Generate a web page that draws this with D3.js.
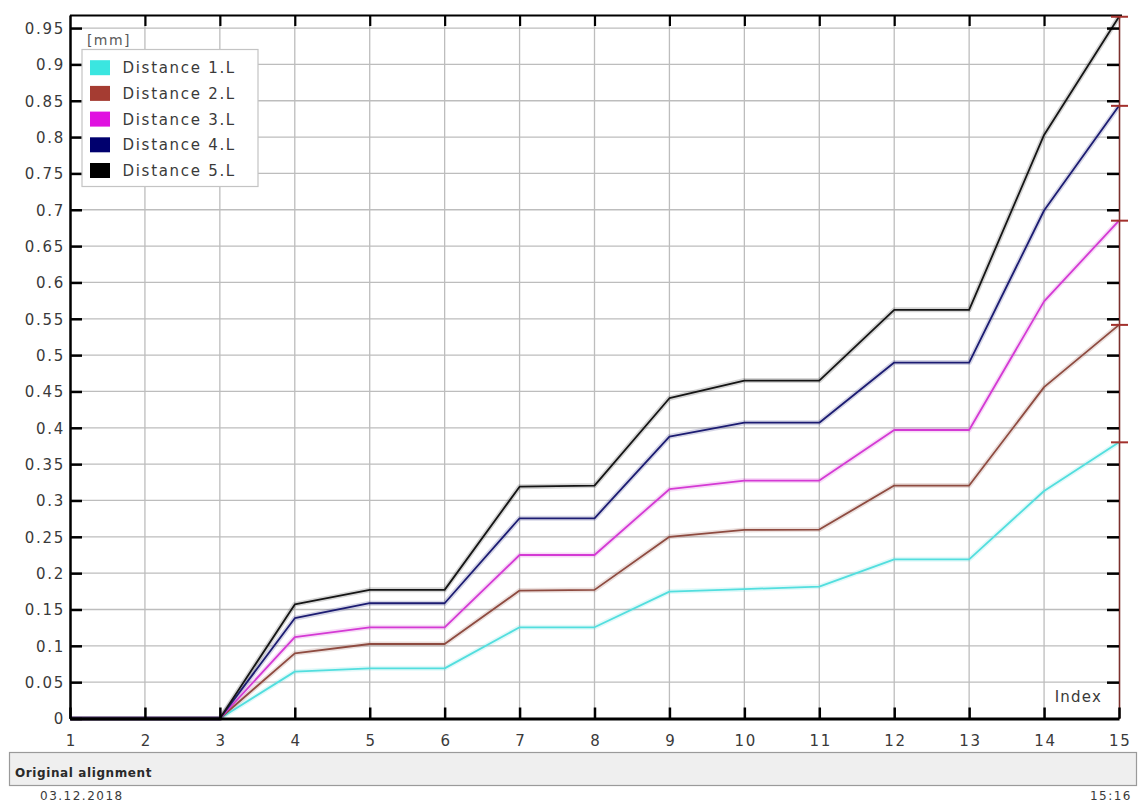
<!DOCTYPE html>
<html>
<head>
<meta charset="utf-8">
<script src="https://cdn.jsdelivr.net/npm/d3@7"></script>
<style>
  html, body { margin: 0; padding: 0; background: #ffffff; }
  svg { display: block; }
  text { font-family: "DejaVu Sans", Verdana, sans-serif; }
</style>
</head>
<body>
<svg id="chart" width="1138" height="802"></svg>
<script>
// Measurement index along the x axis
const indices = [1, 2, 3, 4, 5, 6, 7, 8, 9, 10, 11, 12, 13, 14, 15];

// Distances per index [mm]
const distance1 = [0, 0, 0, 0.0645, 0.069, 0.069, 0.1255, 0.1255, 0.1746, 0.178, 0.1815, 0.219, 0.219, 0.313, 0.380];
const distance2 = [0, 0, 0, 0.0897, 0.1025, 0.1025, 0.176, 0.177, 0.250, 0.2595, 0.260, 0.3205, 0.3205, 0.456, 0.5416];
const distance3 = [0, 0, 0, 0.112, 0.1255, 0.1255, 0.225, 0.225, 0.3155, 0.3274, 0.3274, 0.397, 0.397, 0.574, 0.685];
const distance4 = [0, 0, 0, 0.138, 0.1586, 0.1586, 0.2755, 0.2755, 0.388, 0.407, 0.407, 0.4898, 0.4898, 0.699, 0.843];
const distance5 = [0, 0, 0, 0.157, 0.177, 0.177, 0.319, 0.3205, 0.4407, 0.465, 0.465, 0.5623, 0.5623, 0.803, 0.9656];

const seriesNames = ["Distance 1.L", "Distance 2.L", "Distance 3.L", "Distance 4.L", "Distance 5.L"];
const seriesValues = [distance1, distance2, distance3, distance4, distance5];
const lineColors = ["#52dede", "#8e4b40", "#d43ad4", "#1c1c72", "#151515"];
const swatchColors = ["#3ae6e0", "#a53c32", "#e010e0", "#00006e", "#000000"];

// Axis ticks
const xTicks = [1, 2, 3, 4, 5, 6, 7, 8, 9, 10, 11, 12, 13, 14, 15];
const yTicks = [0, 0.05, 0.1, 0.15, 0.2, 0.25, 0.3, 0.35, 0.4, 0.45, 0.5, 0.55, 0.6, 0.65, 0.7, 0.75, 0.8, 0.85, 0.9, 0.95];
const yTickLabels = ["0", "0.05", "0.1", "0.15", "0.2", "0.25", "0.3", "0.35", "0.4", "0.45", "0.5", "0.55", "0.6", "0.65", "0.7", "0.75", "0.8", "0.85", "0.9", "0.95"];
const yMax = 0.968;

const svg = d3.select("#chart");

const plot = { left: 70, right: 1119, top: 15, bottom: 718.5 };

const x = d3.scaleLinear().domain([1, 15]).range([plot.left, plot.right]);
const y = d3.scaleLinear().domain([0, yMax]).range([plot.bottom, plot.top]);

const labelFont = 15;
const labelSpacing = 1.7;

// Grid
const grid = svg.append("g").attr("class", "grid");
grid.selectAll("line.v")
  .data(xTicks.slice(1, -1))
  .join("line")
  .attr("x1", d => x(d)).attr("x2", d => x(d))
  .attr("y1", plot.top).attr("y2", plot.bottom)
  .attr("stroke", "#bdbdbd").attr("stroke-width", 1.3);
grid.selectAll("line.h")
  .data(yTicks.slice(1))
  .join("line")
  .attr("x1", plot.left).attr("x2", plot.right)
  .attr("y1", d => y(d)).attr("y2", d => y(d))
  .attr("stroke", "#bdbdbd").attr("stroke-width", 1.3);

// Series lines
const line = d3.line()
  .x((d, i) => x(indices[i]))
  .y(d => y(d));

const lines = svg.append("g").attr("class", "series");
lines.selectAll("path.glow")
  .data(seriesValues)
  .join("path")
  .attr("fill", "none")
  .attr("stroke", (d, i) => lineColors[i])
  .attr("stroke-opacity", 0.18)
  .attr("stroke-width", 5)
  .attr("stroke-linejoin", "round")
  .attr("d", line);
lines.selectAll("path.main")
  .data(seriesValues)
  .join("path")
  .attr("fill", "none")
  .attr("stroke", (d, i) => lineColors[i])
  .attr("stroke-width", 1.8)
  .attr("stroke-linejoin", "round")
  .attr("d", line);

// Axes
function styleAxis(g, domainColor, domainWidth, tickWidth) {
  g.select(".domain").attr("stroke", domainColor).attr("stroke-width", domainWidth);
  g.selectAll(".tick line").attr("stroke", "#000").attr("stroke-width", tickWidth);
  g.selectAll(".tick text")
    .attr("fill", "#3a3a3a")
    .style("font-size", labelFont + "px")
    .style("letter-spacing", labelSpacing + "px");
}

const yAxisLeft = svg.append("g")
  .attr("transform", `translate(${plot.left},0)`)
  .call(d3.axisLeft(y).tickValues(yTicks)
    .tickFormat((d, i) => yTickLabels[i])
    .tickSizeInner(-12).tickSizeOuter(0).tickPadding(5));
styleAxis(yAxisLeft, "#000", 2.5, 2.5);
yAxisLeft.selectAll(".tick text").attr("dy", "0.36em");

const yAxisRight = svg.append("g")
  .attr("transform", `translate(${plot.right},0)`)
  .call(d3.axisRight(y).tickValues(yTicks.slice(1))
    .tickFormat("")
    .tickSizeInner(-12).tickSizeOuter(0));
styleAxis(yAxisRight, "#7c2f2c", 1.6, 2.5);

const xAxisTop = svg.append("g")
  .attr("transform", `translate(0,${plot.top})`)
  .call(d3.axisTop(x).tickValues(xTicks.slice(1, -1))
    .tickFormat("")
    .tickSizeInner(-11).tickSizeOuter(0));
styleAxis(xAxisTop, "#000", 2.2, 2.2);
xAxisTop.select(".domain").attr("d", `M${plot.left},0.5H${plot.right + 3}`);

const xAxisBottom = svg.append("g")
  .attr("transform", `translate(0,${plot.bottom})`)
  .call(d3.axisBottom(x).tickValues(xTicks)
    .tickFormat(d3.format("d"))
    .tickSizeInner(-11).tickSizeOuter(0).tickPadding(17));
styleAxis(xAxisBottom, "#000", 3, 2.5);
xAxisBottom.selectAll(".tick text").attr("dy", "0.71em").attr("dx", labelSpacing / 2);

// End-of-series markers on the right axis
svg.append("g").selectAll("line")
  .data(seriesValues)
  .join("line")
  .attr("x1", plot.right - 8).attr("x2", plot.right + 9)
  .attr("y1", d => y(d[d.length - 1])).attr("y2", d => y(d[d.length - 1]))
  .attr("stroke", "#a2302c").attr("stroke-width", 2);

// Axis title
svg.append("text")
  .attr("x", 1102).attr("y", 702)
  .attr("text-anchor", "end")
  .attr("fill", "#3a3a3a")
  .style("font-size", labelFont + "px")
  .style("letter-spacing", "1.2px")
  .text("Index");

// Legend
const legend = svg.append("g").attr("class", "legend");
legend.append("rect")
  .attr("x", 82).attr("y", 49.5)
  .attr("width", 176).attr("height", 137)
  .attr("fill", "#ffffff")
  .attr("stroke", "#c4c4c4").attr("stroke-width", 1.2);
legend.append("text")
  .attr("x", 87).attr("y", 45)
  .attr("fill", "#5a5a5a")
  .style("font-size", "14px")
  .style("letter-spacing", "1.4px")
  .text("[mm]");
const rows = legend.selectAll("g.row")
  .data(seriesNames)
  .join("g")
  .attr("transform", (d, i) => `translate(0,${67.7 + i * 25.7})`);
rows.append("rect")
  .attr("x", 90).attr("y", -7.5)
  .attr("width", 20).attr("height", 15)
  .attr("fill", (d, i) => swatchColors[i]);
rows.append("text")
  .attr("x", 122.5).attr("y", 5.5)
  .attr("fill", "#3a3a3a")
  .style("font-size", labelFont + "px")
  .style("letter-spacing", labelSpacing + "px")
  .text(d => d);

// Status bar
svg.append("rect")
  .attr("x", 9.5).attr("y", 752.5)
  .attr("width", 1127).attr("height", 33)
  .attr("fill", "#efefef")
  .attr("stroke", "#9a9a9a").attr("stroke-width", 1.2);
svg.append("text")
  .attr("x", 15).attr("y", 777)
  .attr("fill", "#2a2a2a")
  .style("font-size", "12px")
  .style("font-weight", "bold")
  .style("letter-spacing", "0.6px")
  .text("Original alignment");

// Footer date and time
svg.append("text")
  .attr("x", 40).attr("y", 800)
  .attr("fill", "#3a3a3a")
  .style("font-size", "12px")
  .style("letter-spacing", "1.5px")
  .text("03.12.2018");
svg.append("text")
  .attr("x", 1132).attr("y", 800)
  .attr("text-anchor", "end")
  .attr("fill", "#3a3a3a")
  .style("font-size", "12px")
  .style("letter-spacing", "1.5px")
  .text("15:16");
</script>
</body>
</html>
